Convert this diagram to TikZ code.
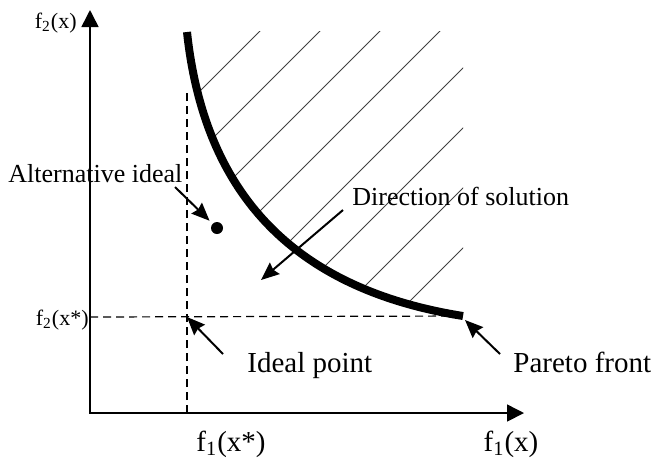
\documentclass[tikz,border=0pt]{standalone}
\usepackage{fontspec}
\setmainfont{Liberation Serif}
\usetikzlibrary{arrows.meta, positioning}

\begin{document}
\begin{tikzpicture}[x=0.5pt, y=-0.5pt,
  axis/.style={line width=0.8pt, {Triangle[length=8.5pt, width=8.5pt]}-{Triangle[length=8.5pt, width=8.5pt]}},
  guide/.style={line width=0.6pt, dash pattern=on 4pt off 2.5pt},
  front/.style={line width=4pt},
  hatch/.style={line width=0.45pt, black!75},
  pointer/.style={line width=1pt, -{Stealth[length=9pt, width=7.5pt, inset=1pt]}},
  lbl/.style={inner sep=0pt, font=\fontsize{13}{15}\selectfont},
  big/.style={inner sep=0pt, font=\fontsize{14.5}{17}\selectfont},
  small/.style={inner sep=0pt, font=\fontsize{11}{13}\selectfont}
]
\useasboundingbox (0,0) rectangle (656,463);

% Key points
\coordinate (O) at (90,413);
\coordinate (ytip) at (90,10);
\coordinate (xtip) at (524,413);
\coordinate (I) at (187,317);
\coordinate (T) at (187,32);
\coordinate (P) at (463,316);

% Hatched region above the front
\begin{scope}
  \clip (T) .. controls (205,200) and (300,290) .. (P) -- (463,31) -- (187,31) -- cycle;
  \foreach \c in {291,351,...,711}
    \draw[hatch] ({\c-500},500) -- (\c,0);
\end{scope}

% Ideal point guides
\draw[guide] (I |- O) -- (187,90);
\draw[guide] (O |- I) -- (P);

% Pareto front
\draw[front] (T) .. controls (205,200) and (300,290) .. (P);

% Axes
\draw[axis] (ytip) -- (O) -- (xtip);
\node[small, anchor=east] (f2) at (77,23) {f\textsubscript{2}(x)};
\node[small, anchor=east] (f2s) at (89,320) {f\textsubscript{2}(x*)};
\node[big] (f1s) at (231,444) {f\textsubscript{1}(x*)};
\node[big] (f1) at (511,444) {f\textsubscript{1}(x)};

% Alternative ideal
\node[circle, fill, inner sep=0pt, minimum size=6pt] (altdot) at (217,228) {};
\node[lbl, anchor=base west] (alt) at (8,182) {Alternative ideal};
\coordinate (altTail) at (175,187);
\draw[pointer, shorten >=2pt] (altTail) -- (altdot);

% Direction of solution
\node[lbl, anchor=base west] (dir) at (352,205) {Direction of solution};
\coordinate (dirTail) at (343,210);
\coordinate (dirTip) at (261,280);
\draw[pointer] (dirTail) -- (dirTip);

% Ideal point and Pareto front labels
\node[big, anchor=base west] (idl) at (247,372) {Ideal point};
\coordinate (idlTail) at (223,354);
\draw[pointer] (idlTail) -- (I);
\node[big, anchor=base west] (par) at (513,372) {Pareto front};
\coordinate (parTail) at (500,354);
\coordinate (parTip) at (465,320);
\draw[pointer] (parTail) -- (parTip);
\end{tikzpicture}
\end{document}
